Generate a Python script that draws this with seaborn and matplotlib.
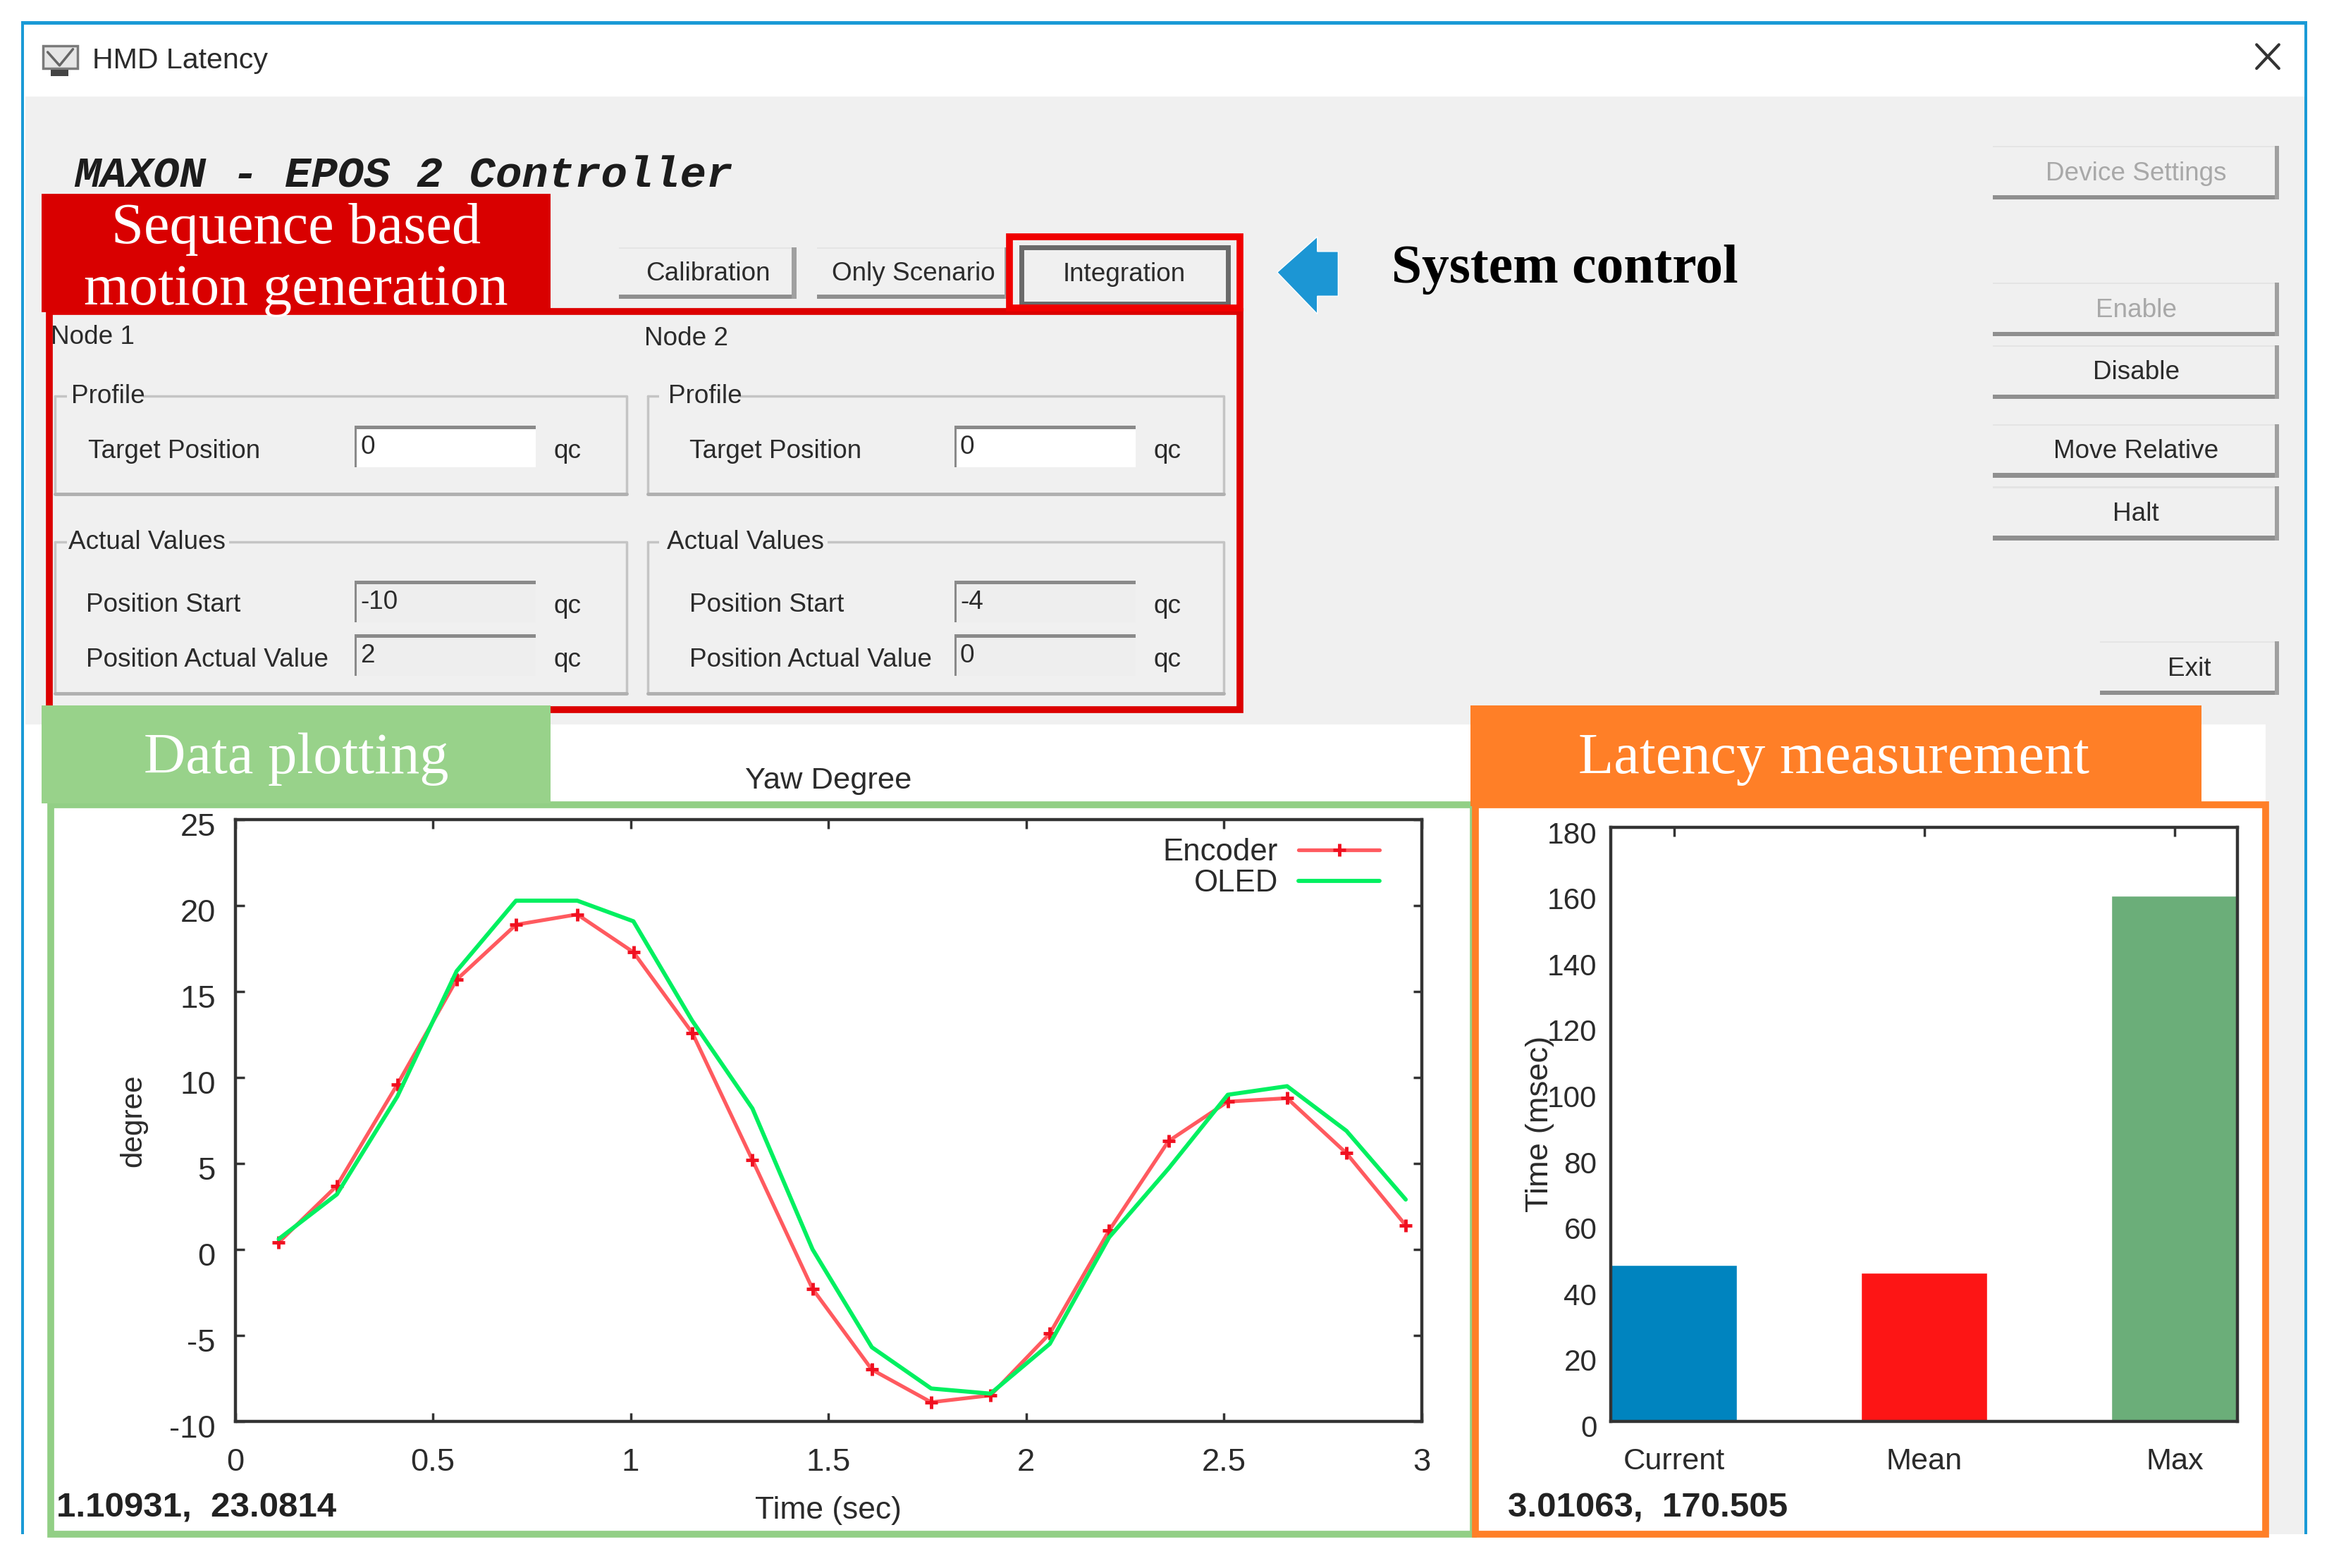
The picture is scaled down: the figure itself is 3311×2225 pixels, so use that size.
import matplotlib
matplotlib.use("Agg")
import matplotlib.pyplot as plt
import seaborn as sns
from matplotlib.patches import Rectangle, Polygon
from matplotlib.transforms import ScaledTranslation

# Chart values
times = [0.11, 0.257, 0.41, 0.56, 0.71, 0.865, 1.007, 1.156, 1.308, 1.46,
         1.61, 1.76, 1.91, 2.06, 2.21, 2.36, 2.51, 2.66, 2.81, 2.96]
encoder = [0.4, 3.7, 9.6, 15.7, 18.9, 19.5, 17.3, 12.6, 5.2, -2.3,
           -7.0, -8.9, -8.5, -4.9, 1.1, 6.3, 8.6, 8.8, 5.6, 1.4]
oled = [0.6, 3.2, 8.9, 16.2, 20.3, 20.3, 19.1, 13.3, 8.2, 0.0,
        -5.7, -8.1, -8.4, -5.5, 0.7, 4.7, 9.0, 9.5, 6.9, 2.9]
bar_names = ["Current", "Mean", "Max"]
bar_values = [47.4, 45, 159.2]
bar_colors = ["#0084bf", "#fd1515", "#6bae79"]
x_ticks = [0, 0.5, 1, 1.5, 2, 2.5, 3]
x_tick_labels = ["0", "0.5", "1", "1.5", "2", "2.5", "3"]
y_ticks = [-10, -5, 0, 5, 10, 15, 20, 25]
bar_ticks = [0, 20, 40, 60, 80, 100, 120, 140, 160, 180]

sns.set_theme(style="white")
plt.rcParams["font.family"] = ["Liberation Sans", "DejaVu Sans"]
plt.rcParams["axes.unicode_minus"] = False

# layout is worked out on a 1568 wide sketch of the window
W, H = 1568.0, 1053.7
SANS = "Liberation Sans"
SERIF = "Liberation Serif"
TXT = "#2b2b2b"


def fs(px):
    return px * 2.1116 * 0.72


fig = plt.figure(figsize=(33.11, 22.25), dpi=100, facecolor="white")
ui = fig.add_axes([0, 0, 1, 1], zorder=0)
ui.set_xlim(0, W)
ui.set_ylim(H, 0)
ui.axis("off")


def box(x0, y0, x1, y1, fc="none", ec="none", lw=0, z=1):
    ui.add_patch(Rectangle((x0, y0), x1 - x0, y1 - y0, fc=fc, ec=ec, lw=lw, zorder=z))


def label(x, y, s, size=17.5, color=TXT, ha="left", **kw):
    # va center sits a bit high for these fonts
    ui.text(x, y + 1.5, s, fontsize=fs(size), color=color, ha=ha, va="center",
            family=kw.pop("family", SANS), zorder=6, **kw)


def button(x0, y0, x1, y1, s, color=TXT):
    box(x0, y0, x1, y1, fc="#f0f0f0", z=2)
    box(x0, y0, x1, y0 + 1, fc="#e4e4e4", z=2)
    box(x0, y1 - 3, x1, y1, fc="#8f8f8f", z=3)
    box(x1 - 3, y0, x1, y1, fc="#a0a0a0", z=3)
    label((x0 + x1) / 2, (y0 + y1) / 2 - 1, s, color=color, ha="center")


def group(x0, y0, x1, y1, s, gap, off):
    ui.plot([x0, x0, x1, x1, x0], [y0, y1, y1, y0, y0], color="#c4c4c4", lw=2.5, zorder=2)
    ui.plot([x0, x1], [y1, y1], color="#b0b0b0", lw=3.5, zorder=2)
    box(x0 + 8, y0 - 6, x0 + off + gap, y0 + 6, fc="#f0f0f0", z=3)
    label(x0 + off, y0 - 1, s)


def field(x0, y0, x1, y1, s, fc):
    box(x0, y0, x1, y1, fc=fc, z=2)
    box(x0, y0, x1, y0 + 2.5, fc="#8a8a8a", z=3)
    box(x0, y0, x0 + 1.8, y1, fc="#8a8a8a", z=3)
    label(x0 + 4, (y0 + y1) / 2 - 1, s)
    label(x1 + 12, (y0 + y1) / 2 + 2, "qc")


# window background
box(15, 15, 1549, 1031, fc="white")
box(17, 65, 1548, 487, fc="#f0f0f0")
box(1522, 487, 1548, 1031, fc="#f0f0f0")
box(14, 14, 1550, 16.5, fc="#1a9ad6", z=5)
box(14, 14, 16, 1031, fc="#1a9ad6", z=5)
box(1548, 14, 1550, 1031, fc="#1a9ad6", z=5)

# title bar
box(29, 31, 52, 46, fc="#e6e6e6", ec="#7a7a7a", lw=2.5)
ui.plot([32, 40, 49], [35, 44, 33], color="#666666", lw=2.5, zorder=3)
box(34, 47, 46, 51, fc="#444444")
label(62, 39, "HMD Latency", size=19.5)
ui.plot([1516, 1531], [30, 46], color="#333333", lw=3, zorder=3)
ui.plot([1516, 1531], [46, 30], color="#333333", lw=3, zorder=3)

ui.text(50, 118, "MAXON - EPOS 2 Controller", fontsize=fs(29.5), family="Liberation Mono",
        style="italic", weight="bold", color="#1c1c1c", va="center", zorder=6)

# top buttons
button(416, 166, 535, 201, "Calibration")
button(549, 166, 678, 201, "Only Scenario")
box(686, 166, 825, 204, fc="#f0f0f0", ec="#6a6a6a", lw=5, z=2)
label(755, 183, "Integration", ha="center")

# side buttons
button(1339, 98, 1531, 134, "Device Settings", color="#a8a8a8")
button(1339, 190, 1531, 226, "Enable", color="#a8a8a8")
button(1339, 232, 1531, 268, "Disable")
button(1339, 285, 1531, 321, "Move Relative")
button(1339, 327, 1531, 363, "Halt")
button(1411, 431, 1531, 467, "Exit")

# node panels
label(34, 225, "Node 1")
label(433, 226, "Node 2")
group(37, 266, 421, 332, "Profile", 48, 11)
group(435, 266, 822, 332, "Profile", 48, 14)
group(37, 364, 421, 466, "Actual Values", 108, 9)
group(435, 364, 822, 466, "Actual Values", 108, 13)
label(59, 302, "Target Position")
label(463, 302, "Target Position")
label(58, 405, "Position Start")
label(463, 405, "Position Start")
label(58, 442, "Position Actual Value")
label(463, 442, "Position Actual Value")
field(238, 286, 360, 314, "0", "white")
field(641, 286, 763, 314, "0", "white")
field(238, 390, 360, 418, "-10", "#eeeeee")
field(641, 390, 763, 418, "-4", "#eeeeee")
field(238, 426, 360, 454, "2", "#eeeeee")
field(641, 426, 763, 454, "0", "#eeeeee")

# coloured annotations
box(33, 209.5, 833, 477, ec="#dc0000", lw=7, z=4)
box(678, 159, 833, 207, ec="#f00000", lw=7, z=4)
box(28, 130, 370, 210, fc="#d90000", z=5)
label(199, 152.5, "Sequence based", size=39, color="white", ha="center", family=SERIF)
label(199, 193.5, "motion generation", size=39, color="white", ha="center", family=SERIF)
ui.add_patch(Polygon([(858, 183), (885, 159), (885, 169), (899, 169), (899, 199),
                      (885, 199), (885, 211)], fc="#1c96d4", zorder=3))
label(935, 179.5, "System control", size=36.7, color="black", family=SERIF, weight="bold")
box(28, 474, 370, 540, fc="#98d28a", z=5)
label(199, 508.5, "Data plotting", size=39, color="white", ha="center", family=SERIF)
box(988, 474, 1479, 542, fc="#ff7f27", z=5)
label(1232, 508.5, "Latency measurement", size=39, color="white", ha="center", family=SERIF)
box(34, 541, 990, 1031, ec="#92cf85", lw=7, z=4)
box(991, 541, 1522, 1031, ec="#ff7f27", lw=7, z=4)
label(38, 1012, "1.10931,  23.0814", size=23.3, weight="bold", color="#222222")
label(1013, 1012, "3.01063,  170.505", size=23.3, weight="bold", color="#222222")


def plot_axes(x0, y0, x1, y1):
    ax = fig.add_axes([x0 / W, 1 - y1 / H, (x1 - x0) / W, (y1 - y0) / H], zorder=2)
    ax.set_facecolor("white")
    ax.tick_params(which="both", direction="in", length=9, width=2.5, color="#333333",
                   labelcolor=TXT, top=True, right=True, bottom=True, left=True)
    for sp in ax.spines.values():
        sp.set_color("#333333")
        sp.set_linewidth(3.2)
        sp.set_visible(True)
    return ax


def nudge_down(ax):
    # the tick numbers sit a little under their tick marks
    shift = ScaledTranslation(0, -0.07, fig.dpi_scale_trans)
    for lab in ax.get_yticklabels():
        lab.set_transform(lab.get_transform() + shift)


# Yaw plot
ax = plot_axes(158, 551, 955, 955)
sns.lineplot(x=times, y=encoder, ax=ax, color="#ff5a5f", linewidth=3.8, marker="+",
             markersize=13, markeredgewidth=3.5, markeredgecolor="#f01020", label="Encoder")
sns.lineplot(x=times, y=oled, ax=ax, color="#00f060", linewidth=4.2, label="OLED")
ax.set_xlim(0, 3)
ax.set_ylim(-10, 25)
ax.set_xticks(x_ticks)
ax.set_xticklabels(x_tick_labels)
ax.set_yticks(y_ticks)
ax.tick_params(axis="x", labelsize=fs(21.5), pad=28)
ax.tick_params(axis="y", labelsize=fs(21.5), pad=20)
ax.set_title("Yaw Degree", fontsize=fs(20.6), color=TXT, pad=32)
ax.set_xlabel("Time (sec)", fontsize=fs(21), color=TXT, labelpad=19)
ax.set_ylabel("degree", fontsize=fs(20), color=TXT)
ax.yaxis.set_label_coords(-0.074, 0.5)
ax.legend(loc="upper right", bbox_to_anchor=((927 - 158) / 797, 1 - 12 / 404), frameon=False,
          markerfirst=False, fontsize=fs(20.7), labelcolor=TXT, labelspacing=0.07,
          handlelength=2.65, handletextpad=0.65, borderaxespad=0, borderpad=0)
nudge_down(ax)

# Latency bars
ax2 = plot_axes(1082, 556, 1503, 955)
sns.barplot(x=bar_names, y=bar_values, hue=bar_names, palette=bar_colors, ax=ax2,
            width=0.505, saturation=1, legend=False, dodge=False)
ax2.set_xlim(-0.253, 2.25)
ax2.set_ylim(0, 180)
ax2.set_yticks(bar_ticks)
ax2.tick_params(axis="x", bottom=False, labelsize=fs(20.5), pad=27)
ax2.tick_params(axis="y", left=False, right=False, labelsize=fs(20), pad=14)
ax2.set_ylabel("Time (msec)", fontsize=fs(21.5), color=TXT)
ax2.yaxis.set_label_coords(-0.09, 0.5)
nudge_down(ax2)

fig.savefig("out.png", dpi=100)
